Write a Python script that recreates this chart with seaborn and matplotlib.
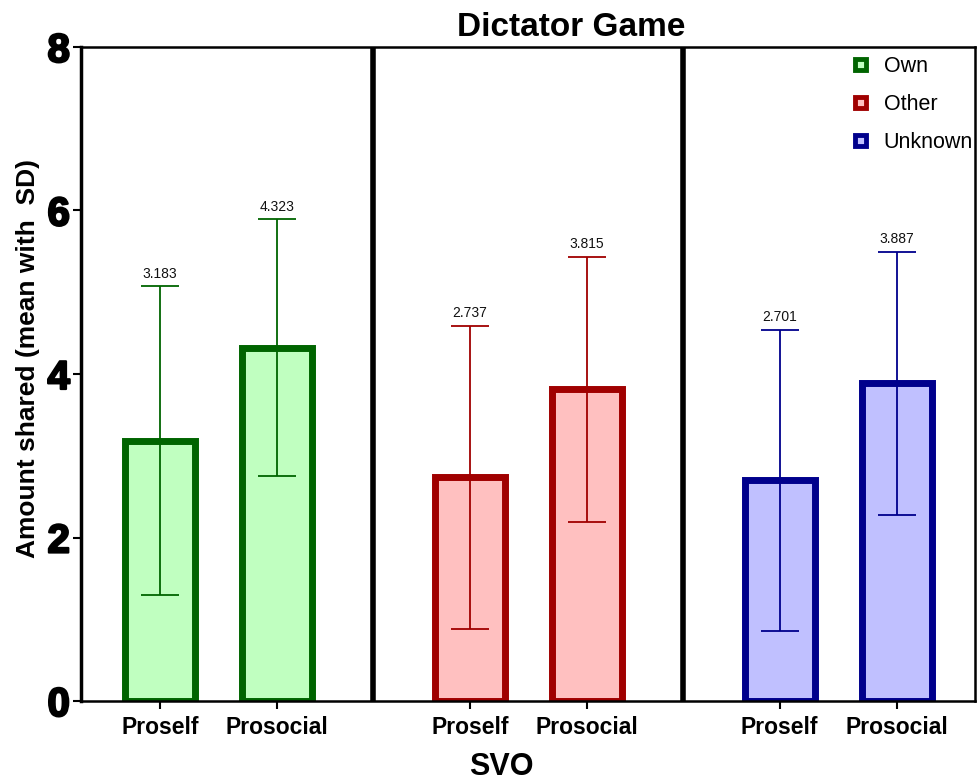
import numpy as np
import pandas as pd
import matplotlib
matplotlib.use("Agg")
import matplotlib.pyplot as plt
import matplotlib.patheffects as pe
import seaborn as sns
from matplotlib.patches import Patch

# Data: mean amount shared and SD by condition and SVO type
conditions = ["Own", "Own", "Other", "Other", "Unknown", "Unknown"]
svo = ["Proself", "Prosocial", "Proself", "Prosocial", "Proself", "Prosocial"]
means = [3.183, 4.323, 2.737, 3.815, 2.701, 3.887]
sds = [1.89, 1.57, 1.85, 1.62, 1.84, 1.61]
positions = [0.0, 1.0, 2.65, 3.65, 5.30, 6.30]
separators = [1.825, 4.475]

edge_colors = {"Own": "#006400", "Other": "#A00000", "Unknown": "#00008C"}
fill_colors = {"Own": "#C0FFC0", "Other": "#FFC0C0", "Unknown": "#C0C0FF"}

df = pd.DataFrame({"pos": positions, "mean": means, "sd": sds,
                   "condition": conditions, "svo": svo})

sns.set_style("white")
plt.rcParams["font.family"] = ["Liberation Sans", "DejaVu Sans"]
for key in ["text.color", "axes.labelcolor", "xtick.color", "ytick.color"]:
    plt.rcParams[key] = "black"

fig = plt.figure(figsize=(9.77, 7.83), dpi=100)
ax = fig.add_axes([0.0829, 0.1047, 0.9151, 0.8353])

sns.barplot(data=df, x="pos", y="mean", hue="condition", native_scale=True,
            dodge=False, width=0.60, palette=fill_colors,
            hue_order=["Own", "Other", "Unknown"], errorbar=None,
            linewidth=5, legend=False, ax=ax)

# outline each bar in the darker shade of its condition
for patch in ax.patches:
    cx = patch.get_x() + patch.get_width() / 2
    idx = int(np.argmin(np.abs(np.array(positions) - cx)))
    patch.set_edgecolor(edge_colors[conditions[idx]])
    patch.set_facecolor(fill_colors[conditions[idx]])
    patch.set_linewidth(5)
    patch.set_joinstyle("miter")

# SD error bars and mean labels
for p, m, s, c in zip(positions, means, sds, conditions):
    ax.errorbar(p, m, yerr=s, color=edge_colors[c], elinewidth=1.3,
                capsize=14, capthick=1.3, fmt="none", zorder=4)
    ax.text(p, m + s + 0.07, f"{m:.3f}", ha="center", va="bottom",
            fontsize=10, color="#111111")

for sx in separators:
    ax.axvline(sx, color="black", linewidth=4, zorder=5)

ax.set_xlim(-0.675, 6.97)
ax.set_ylim(0, 8)
ax.set_yticks([0, 2, 4, 6, 8])
ax.set_xticks(positions)
ax.set_xticklabels(svo, fontsize=16.5, fontweight="bold")
for lbl in ax.get_yticklabels():
    lbl.set_fontsize(29)
    lbl.set_fontweight("bold")
    lbl.set_path_effects([pe.withStroke(linewidth=1.6, foreground="black")])
ax.tick_params(axis="x", direction="out", length=6, width=1.5, pad=5,
               bottom=True)
ax.tick_params(axis="y", direction="out", length=6, width=1.5, pad=2,
               left=True)

for side in ["top", "right", "bottom"]:
    ax.spines[side].set_linewidth(1.8)
    ax.spines[side].set_color("black")
ax.spines["left"].set_linewidth(2.5)
ax.spines["left"].set_color("black")

ax.set_xlabel("SVO", fontsize=22, fontweight="bold")
ax.xaxis.set_label_coords(0.47, -0.078)
ax.set_ylabel("Amount shared (mean with  SD)", fontsize=19,
              fontweight="bold")
ax.yaxis.set_label_coords(-0.046, 0.523)
ax.text(0.548, 1.006, "Dictator Game", transform=ax.transAxes,
        ha="center", va="bottom", fontsize=24, fontweight="bold")

handles = [Patch(facecolor=fill_colors[k], edgecolor=edge_colors[k],
                 linewidth=3.5, label=k) for k in ["Own", "Other", "Unknown"]]
leg = ax.legend(handles=handles, loc="upper right", frameon=False,
                fontsize=15.5, handlelength=0.5, handleheight=0.4,
                handletextpad=0.81, labelspacing=0.79,
                bbox_to_anchor=(1.012, 1.006), borderaxespad=0.2)

fig.savefig("out.png", dpi=100)
